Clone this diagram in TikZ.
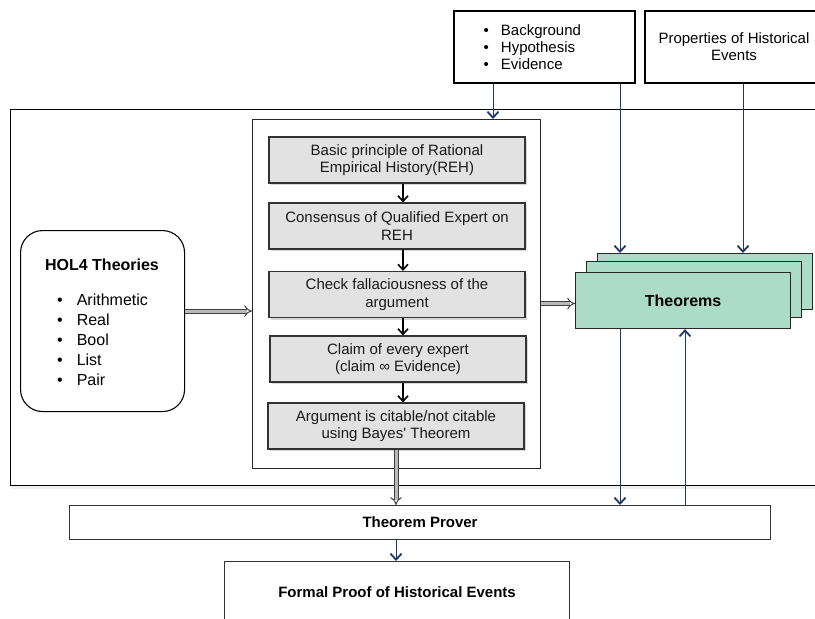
\documentclass[tikz,border=0pt]{standalone}
\usepackage{fontspec}
\setmainfont{Liberation Sans}[Ligatures=TeXOff]
\usetikzlibrary{arrows.meta,shadows,calc}
\definecolor{navy}{RGB}{31,56,100}
\definecolor{boxgray}{RGB}{226,226,226}
\definecolor{mint}{RGB}{172,220,199}
\begin{document}
\begin{tikzpicture}[x=1pt,y=-1pt,
  outerbox/.style={draw=black, line width=1pt, fill=white, inner sep=0pt,
    drop shadow={opacity=0.12, shadow xshift=1pt, shadow yshift=-3pt}},
  innerbox/.style={draw=black!85, line width=1pt, fill=white, inner sep=0pt},
  graybox/.style={draw=black!80, line width=1.1pt, fill=boxgray, inner sep=0pt,
    minimum width=256pt, minimum height=46pt, align=center,
    font=\fontsize{15}{17.5}\selectfont, text=black!90,
    drop shadow={opacity=0.3, shadow xshift=2pt, shadow yshift=-2pt}},
  topbox/.style={draw=black, line width=2pt, fill=white, inner sep=0pt},
  thbox/.style={draw=black!85, line width=1.1pt, fill=mint, inner sep=0pt,
    minimum width=215pt, minimum height=56pt},
  plainbox/.style={draw=black!80, line width=1.1pt, fill=white, inner sep=0pt},
  holbox/.style={draw=black, line width=1.1pt, fill=white, rounded corners=22pt, inner sep=0pt},
  hollow/.style={draw=black!75, line width=1pt, double=gray!55, double distance=3pt, -{Implies[]}},
  navyarrow/.style={draw=navy, line width=1pt, -{Straight Barb[length=6pt,width=11pt,line width=1.8pt]}},
  blackarrow/.style={draw=black, line width=1.2pt, -{Straight Barb[length=5.5pt,width=10pt,line width=1.6pt]}}
]
\clip (0,0) rectangle (815,619);
\fill[white] (0,0) rectangle (815,619);

% helper coordinates for vertical connectors
\coordinate (x493) at (493,0);
\coordinate (x620) at (620,0);
\coordinate (x685) at (685,0);
\coordinate (x743) at (743,0);

% top boxes
\node[topbox, minimum width=181pt, minimum height=72pt, anchor=north west] (tb1) at (453,10) {};
\node[anchor=north west, inner sep=0pt, font=\fontsize{15}{17}\selectfont] (tb1text) at (483.5,23)
  {\begin{tabular}{@{}l@{\hspace{12pt}}l@{}}•&Background\\•&Hypothesis\\•&Evidence\end{tabular}};
\node[topbox, minimum width=178pt, minimum height=72pt, anchor=north west, align=center,
  font=\fontsize{15}{17}\selectfont] (tb2) at (644,10) {Properties of Historical\\Events};

% outer frame
\node[outerbox, minimum width=830pt, minimum height=376pt, anchor=north west] (outer) at (10,109) {};

% inner frame with steps
\node[innerbox, minimum width=288pt, minimum height=349pt, anchor=north west] (inner) at (252,119) {};
\node[graybox] (b1) at (397,160) {Basic principle of Rational\\Empirical History(REH)};
\node[graybox] (b2) at (397,226) {Consensus of Qualified Expert on\\REH};
\node[graybox] (b3) at (397,294.5) {Check fallaciousness of the\\argument};
\node[graybox] (b4) at (398,359) {Claim of every expert\\(claim ∞ Evidence)};
\node[graybox] (b5) at (396,426) {Argument is citable/not citable\\using Bayes' Theorem};

\draw[blackarrow] ([xshift=6pt]b1.south) -- ([xshift=6pt]b1.south |- b2.north);
\draw[blackarrow] ([xshift=6pt]b2.south) -- ([xshift=6pt]b2.south |- b3.north);
\draw[blackarrow] ([xshift=6pt]b3.south) -- ([xshift=6pt]b3.south |- b4.north);
\draw[blackarrow] ([xshift=5pt]b4.south) -- ([xshift=5pt]b4.south |- b5.north);

% HOL4 theories
\node[holbox, minimum width=164pt, minimum height=181pt, anchor=north west] (hol) at (20,230) {};
\node[font=\bfseries\fontsize{16}{19}\selectfont] (holtitle) at (102,265) {HOL4 Theories};
\node[anchor=north west, inner sep=0pt, font=\fontsize{16}{20}\selectfont] (hollist) at (57,291)
  {\begin{tabular}{@{}l@{\hspace{14pt}}l@{}}•&Arithmetic\\•&Real\\•&Bool\\•&List\\•&Pair\end{tabular}};

% theorems stack
\node[thbox, anchor=north west] (th3) at (597,253) {};
\node[thbox, anchor=north west] (th2) at (586,261) {};
\node[thbox, anchor=north west, font=\bfseries\fontsize{16}{19}\selectfont] (th1) at (575,272) {Theorems};

% theorem prover and formal proof
\node[plainbox, minimum width=701pt, minimum height=34pt, anchor=north west,
  font=\bfseries\fontsize{15}{18}\selectfont] (tp) at (69,505) {Theorem Prover};
\node[plainbox, minimum width=345pt, minimum height=62pt, anchor=north west,
  font=\bfseries\fontsize{15}{18}\selectfont] (fp) at (224,561) {Formal Proof of Historical Events};

% hollow arrows
\draw[hollow] ([yshift=10pt]hol.east) -- ([yshift=10pt]hol.east -| inner.west);
\draw[hollow] ([yshift=-3pt]th1.west -| inner.east) -- ([yshift=-3pt]th1.west);
\draw[hollow] (b5.south) -- (b5.south |- tp.north);

% navy connectors
\draw[navyarrow] (tb1.south -| x493) -- (inner.north -| x493);
\draw[navyarrow] (tb1.south -| x620) -- (th3.north -| x620);
\draw[navyarrow] (tb2.south -| x743) -- (th3.north -| x743);
\draw[navyarrow] (th1.south -| x620) -- (tp.north -| x620);
\draw[navyarrow] (tp.north -| x685) -- (th1.south -| x685);
\draw[navyarrow] (tp.south -| b5.south) -- (fp.north -| b5.south);
\end{tikzpicture}
\end{document}
